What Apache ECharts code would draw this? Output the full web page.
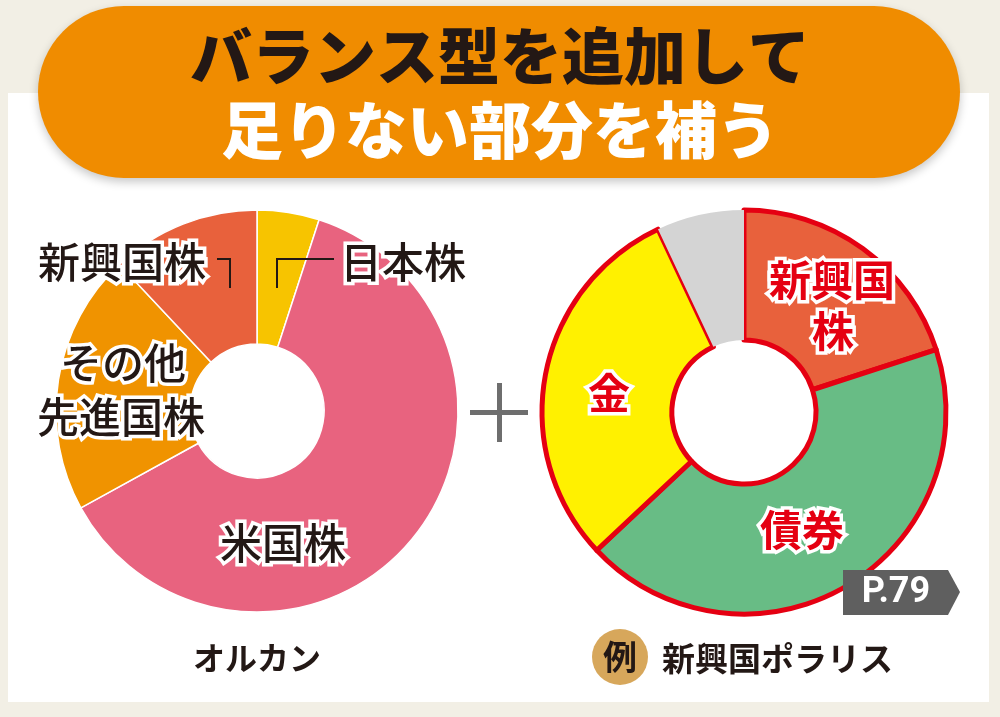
<!DOCTYPE html>
<html>
<head>
<meta charset="utf-8">
<title>バランス型を追加して足りない部分を補う</title>
<script src="https://cdn.jsdelivr.net/npm/echarts@6/dist/echarts.min.js"></script>
<style>
  html, body { margin: 0; padding: 0; background: #f2efe5; }
  #main { width: 1000px; height: 717px; }
</style>
</head>
<body>
<div id="main"></div>
<script>
// オルカン（左のドーナツ）
var orcanNames  = ['日本株', '米国株', 'その他先進国株', '新興国株'];
var orcanValues = [5, 62, 21, 12];
var orcanColors = ['#f7c400', '#e8637f', '#f09300', '#e8613c'];

// 新興国ポラリス（右のドーナツ）
var polarisNames  = ['新興国株', '債券', '金', 'その他'];
var polarisValues = [20, 43, 30, 7];
var polarisColors = ['#e8613c', '#68bc85', '#fff100', '#d4d4d4'];

var FONT = '"Noto Sans CJK JP", "Noto Sans", sans-serif';
var INK = '#231815';
var RED = '#e50012';

function makeData(names, values, colors, border){
  var list = [];
  for (var i = 0; i < names.length; i++) {
    var item = { name: names[i], value: values[i], itemStyle: { color: colors[i] } };
    // グレー部分だけ赤枠なし
    if (border && names[i] === 'その他') {
      item.itemStyle.borderWidth = 0;
    }
    list.push(item);
  }
  return list;
}

// ラベル用テキスト
function label(text, x, y, size, color, stroke, weight){
  return {
    type: 'text', z: 20, x: x, y: y,
    style: {
      text: text, fill: color, fontSize: size, fontFamily: FONT, fontWeight: weight || 'bold',
      align: 'center', verticalAlign: 'middle',
      stroke: stroke ? '#ffffff' : null, lineWidth: stroke ? 7 : 0
    }
  };
}

var chart = echarts.init(document.getElementById('main'));
var option = {
  backgroundColor: '#f2efe5',
  animation: false,
  graphic: [
    // 白いパネル
    { type: 'rect', z: 0, shape: { x: 8, y: 93, width: 981, height: 609 }, style: { fill: '#ffffff' } },
    // タイトル帯
    { type: 'rect', z: 1, shape: { x: 38, y: 6, width: 922, height: 172, r: 86 },
      style: { fill: '#f08c00', shadowBlur: 10, shadowOffsetY: 4, shadowColor: 'rgba(0,0,0,0.22)' } },
    { type: 'text', z: 2, x: 500, y: 56,
      style: { text: 'バランス型を追加して', fill: INK, fontSize: 62, fontWeight: 900, fontFamily: FONT,
               align: 'center', verticalAlign: 'middle' } },
    { type: 'text', z: 2, x: 500, y: 130,
      style: { text: '足りない部分を補う', fill: '#ffffff', fontSize: 62, fontWeight: 900, fontFamily: FONT,
               align: 'center', verticalAlign: 'middle' } },

    // 左のラベル
    label('新興国株', 122, 262, 42, INK, true, 500),
    label('日本株', 403, 262, 42, INK, true, 500),
    label('その他', 123, 363, 42, INK, true, 500),
    label('先進国株', 121, 417, 42, INK, true, 500),
    label('米国株', 283, 543, 42, INK, true, 500),
    { type: 'polyline', z: 20, shape: { points: [[217, 259], [230, 259], [230, 288]] },
      style: { stroke: INK, lineWidth: 2, fill: null } },
    { type: 'polyline', z: 20, shape: { points: [[277, 288], [277, 259], [334, 259]] },
      style: { stroke: INK, lineWidth: 2, fill: null } },

    // ＋
    { type: 'rect', z: 5, shape: { x: 470, y: 410, width: 58, height: 5 }, style: { fill: '#6e6e6e' } },
    { type: 'rect', z: 5, shape: { x: 497, y: 383, width: 5, height: 59 }, style: { fill: '#6e6e6e' } },

    // 右のラベル
    label('新興国', 832, 280, 42, RED, true),
    label('株', 833, 331, 42, RED, true),
    label('金', 609, 393, 42, RED, true),
    label('債券', 802, 530, 42, RED, true),

    // P.79
    { type: 'polygon', z: 20, shape: { points: [[843, 570], [948, 570], [960, 592], [948, 615], [843, 615]] },
      style: { fill: '#5f5f5f' } },
    { type: 'text', z: 21, x: 896, y: 593,
      style: { text: 'P.79', fill: '#ffffff', fontSize: 36, fontWeight: 'bold', fontFamily: 'Roboto, sans-serif',
               align: 'center', verticalAlign: 'middle' } },

    // 下のタイトル
    label('オルカン', 257, 658, 32, INK, false),
    { type: 'circle', z: 20, shape: { cx: 620, cy: 657, r: 28 }, style: { fill: '#d7a75b' } },
    label('例', 620, 657, 34, INK, false),
    { type: 'text', z: 20, x: 662, y: 658,
      style: { text: '新興国ポラリス', fill: INK, fontSize: 33, fontWeight: 'bold', fontFamily: FONT,
               align: 'left', verticalAlign: 'middle' } }
  ],
  series: [
    {
      name: 'オルカン',
      type: 'pie',
      center: [257, 411],
      radius: [67, 201],
      startAngle: 90,
      clockwise: true,
      label: { show: false },
      labelLine: { show: false },
      emphasis: { disabled: true },
      itemStyle: { borderColor: '#ffffff', borderWidth: 1.5 },
      data: makeData(orcanNames, orcanValues, orcanColors, false)
    },
    {
      name: '新興国ポラリス',
      type: 'pie',
      center: [744, 412],
      radius: [72, 202],
      startAngle: 90,
      clockwise: true,
      label: { show: false },
      labelLine: { show: false },
      emphasis: { disabled: true },
      itemStyle: { borderColor: RED, borderWidth: 5 },
      data: makeData(polarisNames, polarisValues, polarisColors, true)
    }
  ]
};
chart.setOption(option);
window.addEventListener('resize', function(){
  chart.resize();
});
</script>
</body>
</html>
